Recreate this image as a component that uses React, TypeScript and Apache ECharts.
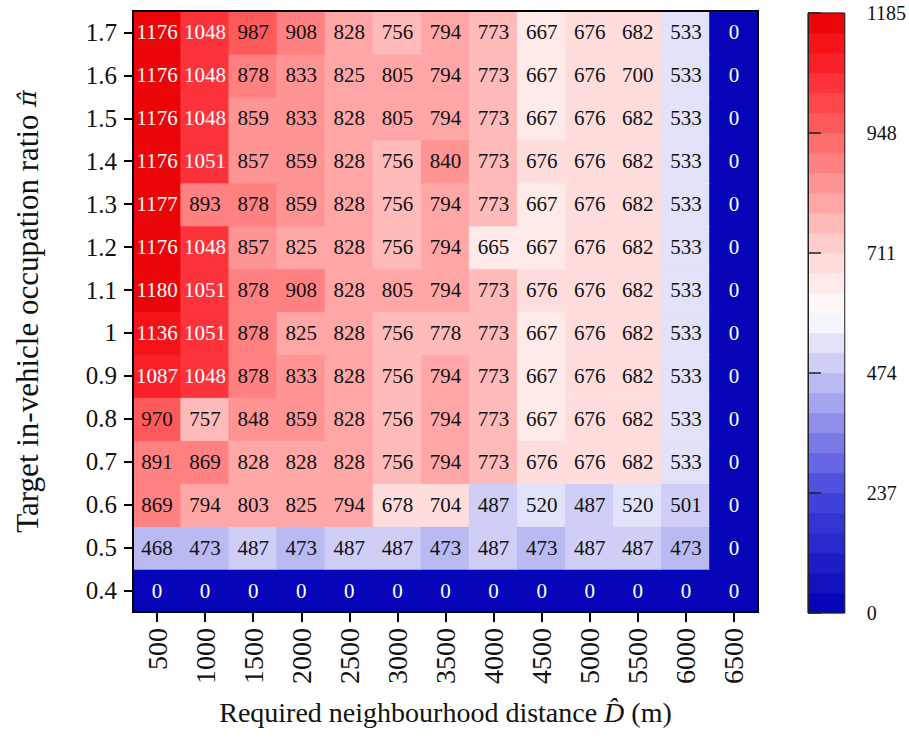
import React, { useEffect, useRef } from 'react';
import * as echarts from 'echarts';

const distances = ['500', '1000', '1500', '2000', '2500', '3000', '3500', '4000', '4500', '5000', '5500', '6000', '6500'];
const ratios = ['0.4', '0.5', '0.6', '0.7', '0.8', '0.9', '1', '1.1', '1.2', '1.3', '1.4', '1.5', '1.6', '1.7'];

const r04 = [0, 0, 0, 0, 0, 0, 0, 0, 0, 0, 0, 0, 0];
const r05 = [468, 473, 487, 473, 487, 487, 473, 487, 473, 487, 487, 473, 0];
const r06 = [869, 794, 803, 825, 794, 678, 704, 487, 520, 487, 520, 501, 0];
const r07 = [891, 869, 828, 828, 828, 756, 794, 773, 676, 676, 682, 533, 0];
const r08 = [970, 757, 848, 859, 828, 756, 794, 773, 667, 676, 682, 533, 0];
const r09 = [1087, 1048, 878, 833, 828, 756, 794, 773, 667, 676, 682, 533, 0];
const r10 = [1136, 1051, 878, 825, 828, 756, 778, 773, 667, 676, 682, 533, 0];
const r11 = [1180, 1051, 878, 908, 828, 805, 794, 773, 676, 676, 682, 533, 0];
const r12 = [1176, 1048, 857, 825, 828, 756, 794, 665, 667, 676, 682, 533, 0];
const r13 = [1177, 893, 878, 859, 828, 756, 794, 773, 667, 676, 682, 533, 0];
const r14 = [1176, 1051, 857, 859, 828, 756, 840, 773, 676, 676, 682, 533, 0];
const r15 = [1176, 1048, 859, 833, 828, 805, 794, 773, 667, 676, 682, 533, 0];
const r16 = [1176, 1048, 878, 833, 825, 805, 794, 773, 667, 676, 700, 533, 0];
const r17 = [1176, 1048, 987, 908, 828, 756, 794, 773, 667, 676, 682, 533, 0];
const rows = [r04, r05, r06, r07, r08, r09, r10, r11, r12, r13, r14, r15, r16, r17];

const colorbarTicks = [0, 237, 474, 711, 948, 1185];
const maxValue = 1185;
const levelCount = 30;

const colorStops: [number, number[]][] = [
  [0, [0, 0, 180]],
  [0.2, [70, 70, 222]],
  [0.4, [196, 196, 244]],
  [0.5, [255, 255, 255]],
  [0.6, [255, 214, 214]],
  [0.8, [255, 100, 100]],
  [0.92, [250, 30, 40]],
  [1, [230, 0, 0]],
];

function colorAt(t: number): string {
  for (let i = 1; i < colorStops.length; i++) {
    const [t1, c1] = colorStops[i];
    const [t0, c0] = colorStops[i - 1];
    if (t <= t1) {
      const f = (t - t0) / (t1 - t0);
      const c = c0.map((v, j) => Math.round(v + (c1[j] - v) * f));
      return `rgb(${c[0]},${c[1]},${c[2]})`;
    }
  }
  const c = colorStops[colorStops.length - 1][1];
  return `rgb(${c[0]},${c[1]},${c[2]})`;
}

const step = maxValue / levelCount;
const levels = Array.from({ length: levelCount }, (_, k) => ({
  lo: k * step,
  hi: (k + 1) * step,
  color: colorAt((k + 0.5) / levelCount),
}));

function levelColor(v: number): string {
  const k = Math.min(levelCount - 1, Math.max(0, Math.floor(v / step)));
  return levels[k].color;
}

const SERIF = '"Liberation Serif", "Times New Roman", serif';

export default function App() {
  const ref = useRef<HTMLDivElement>(null);
  useEffect(() => {
    if (!ref.current) return;
    const chart = echarts.init(ref.current, undefined, { renderer: 'svg' });
    const data: any[] = [];
    rows.forEach((row, yi) => {
      row.forEach((v, xi) => {
        const white = v >= 1000 || v < 150;
        data.push({
          value: [xi, yi, v],
          label: { color: white ? '#ffffff' : '#111111' },
          itemStyle: { borderColor: levelColor(v), borderWidth: 0.8 },
        });
      });
    });
    const pieces = levels.map((l, k) =>
      k === levelCount - 1
        ? { gte: l.lo, lte: l.hi + 1, color: l.color }
        : { gte: l.lo, lt: l.hi, color: l.color }
    );
    chart.setOption({
      animation: false,
      backgroundColor: '#ffffff',
      textStyle: { fontFamily: SERIF },
      grid: [
        { left: 133, top: 11, width: 625, height: 601, show: true, borderColor: '#000', borderWidth: 2, backgroundColor: 'transparent', z: 5 },
        { left: 808, top: 13, width: 41, height: 600, show: true, borderColor: '#222', borderWidth: 1, backgroundColor: 'transparent', z: 5 },
      ],
      xAxis: [
        {
          type: 'category',
          gridIndex: 0,
          data: distances,
          position: 'bottom',
          axisLine: { show: true, lineStyle: { color: '#000', width: 2 } },
          axisTick: { show: true, alignWithLabel: true, length: 10, lineStyle: { color: '#000', width: 2 } },
          axisLabel: { rotate: 90, fontSize: 28, color: '#111', margin: 16, fontFamily: SERIF },
          splitLine: { show: false },
          name: 'Required neighbourhood distance {i|D̂} (m)',
          nameLocation: 'middle',
          nameGap: 86,
          nameTextStyle: {
            fontSize: 28,
            color: '#111',
            fontFamily: SERIF,
            rich: { i: { fontSize: 28, fontStyle: 'italic', color: '#111', fontFamily: SERIF } },
          },
          z: 10,
        },
        { type: 'value', gridIndex: 1, min: 0, max: 1, show: false },
      ],
      yAxis: [
        {
          type: 'category',
          gridIndex: 0,
          data: ratios,
          axisLine: { show: true, lineStyle: { color: '#000', width: 2 } },
          axisTick: { show: true, alignWithLabel: true, length: 9, lineStyle: { color: '#000', width: 2 } },
          axisLabel: { fontSize: 25, color: '#111', margin: 16, fontFamily: SERIF },
          splitLine: { show: false },
          name: 'Target in-vehicle occupation ratio {i|π̂}',
          nameLocation: 'middle',
          nameRotate: 90,
          nameGap: 90,
          nameTextStyle: {
            fontSize: 31,
            color: '#111',
            fontFamily: SERIF,
            rich: { i: { fontSize: 25, fontStyle: 'italic', color: '#111', fontFamily: '"DejaVu Serif", serif' } },
          },
          z: 10,
        },
        {
          type: 'value',
          gridIndex: 1,
          min: 0,
          max: maxValue,
          interval: 237,
          position: 'right',
          axisLine: { show: true, lineStyle: { color: '#222', width: 1 } },
          axisTick: { show: true, length: 13, lineStyle: { color: '#222', width: 1.5 } },
          axisLabel: {
            fontSize: 20,
            color: '#111',
            margin: 22,
            fontFamily: SERIF,
            formatter: (v: number) => (colorbarTicks.includes(v) ? String(v) : ''),
          },
          splitLine: { show: false },
          z: 10,
        },
      ],
      visualMap: {
        type: 'piecewise',
        show: false,
        seriesIndex: 0,
        dimension: 2,
        pieces,
      },
      series: [
        {
          type: 'heatmap',
          xAxisIndex: 0,
          yAxisIndex: 0,
          data,
          label: { show: true, fontSize: 21, fontFamily: SERIF },
          emphasis: { disabled: true },
        },
        {
          type: 'custom',
          xAxisIndex: 1,
          yAxisIndex: 1,
          data: levels.map((l, k) => [l.lo, l.hi, k]),
          renderItem: (params: any, api: any) => {
            const lo = api.value(0);
            const hi = api.value(1);
            const k = api.value(2);
            const p1 = api.coord([0, hi]);
            const p2 = api.coord([1, lo]);
            return {
              type: 'rect',
              shape: { x: p1[0], y: p1[1], width: p2[0] - p1[0], height: p2[1] - p1[1] },
              style: { fill: levels[k].color, stroke: levels[k].color, lineWidth: 0.6 },
            };
          },
          silent: true,
        },
      ],
    });
    return () => chart.dispose();
  }, []);
  return <div ref={ref} style={{ width: 909, height: 746, position: 'absolute', left: 0, top: 0 }} />;
}
